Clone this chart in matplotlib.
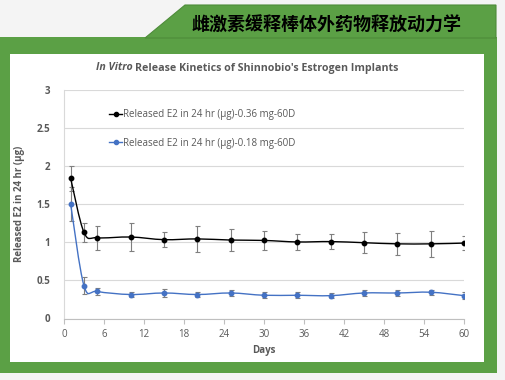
import numpy as np
import matplotlib.pyplot as plt
from matplotlib.patches import Rectangle, Polygon, PathPatch
from matplotlib.path import Path
from matplotlib.lines import Line2D
from matplotlib.offsetbox import TextArea, HPacker, AnchoredOffsetbox

plt.rcParams['font.family'] = ['Open Sans', 'DejaVu Sans']

days = [1, 3, 5, 10, 15, 20, 25, 30, 35, 40, 45, 50, 55, 60]
e2_036 = [1.84, 1.13, 1.06, 1.07, 1.035, 1.045, 1.03, 1.025, 1.005, 1.01, 0.995, 0.98, 0.98, 0.99]
err_036 = [0.16, 0.12, 0.16, 0.18, 0.10, 0.17, 0.14, 0.12, 0.10, 0.095, 0.14, 0.14, 0.17, 0.09]
e2_018 = [1.50, 0.43, 0.355, 0.315, 0.335, 0.315, 0.335, 0.305, 0.305, 0.30, 0.335, 0.335, 0.345, 0.30]
err_018 = [0.22, 0.11, 0.04, 0.03, 0.05, 0.03, 0.04, 0.04, 0.04, 0.03, 0.04, 0.045, 0.03, 0.05]
labels = ['Released E2 in 24 hr (\u00b5g)-0.36 mg-60D', 'Released E2 in 24 hr (\u00b5g)-0.18 mg-60D']
banner = '雌激素缓释棒体外药物释放动力学'

W, H = 506, 380
GREEN = '#5ba045'
GRAY = '#595959'


def px(x, y):
    return (x / W, 1 - y / H)


def smooth_path(xs, ys):
    # Excel-style smoothed line as cubic Bezier segments
    p = np.column_stack([xs, ys]).astype(float)
    ext = np.vstack([p[0], p, p[-1]])
    verts = [p[0]]
    codes = [Path.MOVETO]
    for i in range(len(p) - 1):
        p0, p1, p2, p3 = ext[i], ext[i + 1], ext[i + 2], ext[i + 3]
        c1 = p1 + (p2 - p0) / 6
        c2 = p2 - (p3 - p1) / 6
        verts += [c1, c2, p2]
        codes += [Path.CURVE4] * 3
    return Path(verts, codes)


fig = plt.figure(figsize=(W / 100, H / 100), dpi=100)
fig.patch.set_facecolor('#f4f4f4')

# green frame, white panel, banner
fig.patches.append(Rectangle(px(0, 373), 497 / W, 336 / H, transform=fig.transFigure,
                             facecolor=GREEN, edgecolor='none', zorder=0))
fig.patches.append(Rectangle(px(10, 362), 474 / W, 308 / H, transform=fig.transFigure,
                             facecolor='white', edgecolor='none', zorder=1))
fig.patches.append(Polygon([px(145, 38), px(185, 5), px(496, 5), px(496, 38)],
                           closed=True, transform=fig.transFigure,
                           facecolor=GREEN, edgecolor='#4e8c3a', lw=0.8, zorder=0))
fig.text(*px(326, 25), banner, ha='center', va='center', fontsize=13, fontweight='bold',
         color='black', family=['Noto Sans CJK SC', 'DejaVu Sans'])

ax = fig.add_axes([64 / W, 1 - 318.5 / H, 400 / W, 228.5 / H])
ax.set_facecolor('white')
ax.set_zorder(2)

series = [(e2_036, err_036, 'black'), (e2_018, err_018, '#4472c4')]
handles = []
for (vals, errs, col), lab in zip(series, labels):
    ax.add_patch(PathPatch(smooth_path(days, vals), fill=False, edgecolor=col, lw=1.0, zorder=3))
    ax.errorbar(days, vals, yerr=errs, fmt='none', ecolor='#7f7f7f', elinewidth=0.8,
                capsize=1.8, capthick=0.8, zorder=2)
    ax.plot(days, vals, 'o', color=col, ms=3.2, zorder=4)
    handles.append(Line2D([], [], color=col, marker='o', ms=3, lw=1.0))

ax.set_xlim(0, 60)
ax.set_ylim(0, 3)
ax.set_xticks(np.arange(0, 61, 6))
ax.set_yticks([0, 0.5, 1, 1.5, 2, 2.5, 3])
ax.set_yticklabels(['0', '0.5', '1', '1.5', '2', '2.5', '3'])
ax.grid(axis='y', color='#d9d9d9', lw=0.8)
ax.set_axisbelow(True)
for s in ['top', 'right']:
    ax.spines[s].set_visible(False)
ax.spines['left'].set_color('#d9d9d9')
ax.spines['bottom'].set_color('#bfbfbf')
ax.tick_params(axis='x', colors='#bfbfbf', labelcolor=GRAY, labelsize=7, direction='out',
               length=3.5, pad=4)
ax.tick_params(axis='y', length=0, labelcolor=GRAY, labelsize=7, pad=10)
for t in ax.get_yticklabels():
    t.set_fontweight('bold')

ax.set_xlabel('Days', fontsize=7, fontweight='bold', color=GRAY, labelpad=4)
ax.set_ylabel('Released E2 in 24 hr (\u00b5g)', fontsize=7, fontweight='bold', color=GRAY, labelpad=8)

# chart title: italic "In Vitro" followed by bold text
t1 = TextArea('In Vitro', textprops=dict(fontsize=7.7, fontweight='bold', fontstyle='italic', color=GRAY))
t2 = TextArea('Release Kinetics of Shinnobio\'s Estrogen Implants',
              textprops=dict(fontsize=7.7, fontweight='bold', color=GRAY))
title_box = HPacker(children=[t1, t2], align='baseline', pad=0, sep=2.0)
fig.artists.append(AnchoredOffsetbox(loc='center', child=title_box, frameon=False, pad=0,
                                     bbox_to_anchor=px(247, 68), bbox_transform=fig.transFigure))
fig.artists[-1].set_figure(fig)

ax.legend(handles, labels, loc='upper left', bbox_to_anchor=(0.09, 0.953), frameon=False,
          fontsize=7, labelcolor=GRAY, handlelength=1.4, handletextpad=0.1, labelspacing=1.75)

fig.savefig('out.png', dpi=100, facecolor=fig.get_facecolor())
